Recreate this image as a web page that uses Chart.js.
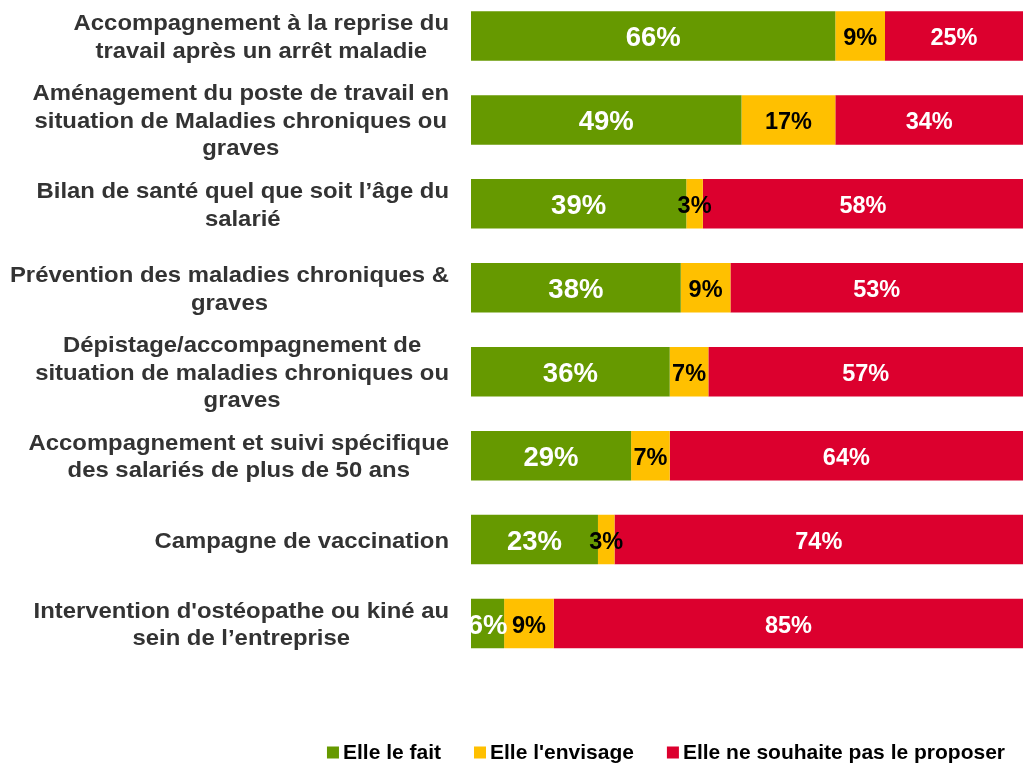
<!DOCTYPE html>
<html>
<head>
<meta charset="utf-8">
<script src="https://cdn.jsdelivr.net/npm/chart.js@4.4.1/dist/chart.umd.min.js"></script>
<style>
  html, body { margin: 0; padding: 0; background: #fff; }
  #wrap { width: 1023px; height: 765px; position: relative; overflow: hidden; }
  /* canvas starts 6px above the page so the first band is cut like the original slide */
  #inner { position: absolute; left: 0; top: -6px; width: 1023px; height: 771px; }
</style>
</head>
<body>
<div id="wrap"><div id="inner"><canvas id="chart"></canvas></div></div>
<script>
const categories = [
    ["Accompagnement à la reprise du", "travail après un arrêt maladie"],
    ["Aménagement du poste de travail en", "situation de Maladies chroniques ou", "graves"],
    ["Bilan de santé quel que soit l’âge du", "salarié"],
    ["Prévention des maladies chroniques &", "graves"],
    ["Dépistage/accompagnement de", "situation de maladies chroniques ou", "graves"],
    ["Accompagnement et suivi spécifique", "des salariés de plus de 50 ans"],
    ["Campagne de vaccination"],
    ["Intervention d'ostéopathe ou kiné au", "sein de l’entreprise"]
];
const seriesNames = ["Elle le fait", "Elle l'envisage", "Elle ne souhaite pas le proposer"];
const leFait = [66, 49, 39, 38, 36, 29, 23, 6];
const envisage = [9, 17, 3, 9, 7, 7, 3, 9];
const nePasProposer = [25, 34, 58, 53, 57, 64, 74, 85];

const colors = ["#669900", "#FFC000", "#DC002E"];
const FONT = "'Liberation Sans', Arial, sans-serif";

// category labels: block right-aligned on the axis, lines centred inside the block
// (text of the original slide is slightly stretched horizontally)
const categoryLabels = {
    id: "categoryLabels",
    afterDraw(chart) {
        const ctx = chart.ctx;
        const y = chart.scales.y;
        const right = 449;
        const lineH = 27.5;
        const sx = 1.085;
        ctx.save();
        ctx.font = "bold 22px " + FONT;
        ctx.fillStyle = "#333333";
        ctx.textAlign = "center";
        ctx.textBaseline = "middle";
        categories.forEach((lines, i) => {
            const cy = y.getPixelForValue(i) + 2;
            const maxW = Math.max(...lines.map(l => ctx.measureText(l).width)) * sx;
            const cx = right - maxW / 2;
            const top = cy - (lines.length - 1) * lineH / 2;
            lines.forEach((l, k) => {
                ctx.save();
                ctx.translate(cx, top + k * lineH);
                ctx.scale(sx, 1);
                ctx.fillText(l, 0, 0);
                ctx.restore();
            });
        });
        ctx.restore();
    }
};

// percentages in the middle of each segment
const valueLabels = {
    id: "valueLabels",
    afterDatasetsDraw(chart) {
        const ctx = chart.ctx;
        const a = chart.chartArea;
        ctx.save();
        ctx.beginPath();
        ctx.rect(a.left, 0, a.right - a.left, chart.height);
        ctx.clip();
        ctx.textAlign = "center";
        ctx.textBaseline = "middle";
        chart.data.datasets.forEach((ds, d) => {
            const meta = chart.getDatasetMeta(d);
            meta.data.forEach((bar, i) => {
                ctx.font = (d === 0 ? "bold 27.5px " : "bold 23.5px ") + FONT;
                ctx.fillStyle = d === 1 ? "#000000" : "#ffffff";
                ctx.fillText(ds.data[i] + "%", (bar.x + bar.base) / 2, bar.y + 2.5);
            });
        });
        ctx.restore();
    }
};

// legend at the bottom right
const bottomLegend = {
    id: "bottomLegend",
    afterDraw(chart) {
        const ctx = chart.ctx;
        const box = 12, gapText = 4, gapItem = 33, cy = 758.5;
        ctx.save();
        ctx.font = "bold 21px " + FONT;
        ctx.textBaseline = "middle";
        ctx.textAlign = "left";
        const widths = seriesNames.map(n => ctx.measureText(n).width);
        let total = widths.reduce((s, w) => s + w + box + gapText, 0) + gapItem * (seriesNames.length - 1);
        let x = 1005 - total;
        seriesNames.forEach((n, i) => {
            ctx.fillStyle = colors[i];
            ctx.fillRect(x, cy - box / 2, box, box);
            ctx.fillStyle = "#000000";
            ctx.fillText(n, x + box + gapText, cy + 1);
            x += box + gapText + widths[i] + gapItem;
        });
        ctx.restore();
    }
};

new Chart(document.getElementById("chart"), {
    type: "bar",
    data: {
        labels: categories,
        datasets: [
            { label: seriesNames[0], data: leFait, backgroundColor: colors[0] },
            { label: seriesNames[1], data: envisage, backgroundColor: colors[1] },
            { label: seriesNames[2], data: nePasProposer, backgroundColor: colors[2] }
        ]
    },
    options: {
        indexAxis: "y",
        responsive: true,
        maintainAspectRatio: false,
        animation: false,
        layout: { padding: 0 },
        datasets: { bar: { barPercentage: 0.59, categoryPercentage: 1 } },
        plugins: {
            legend: { display: false },
            tooltip: { enabled: false }
        },
        scales: {
            x: {
                stacked: true,
                min: 0,
                max: 100,
                grid: { display: false },
                border: { display: false },
                ticks: { display: false },
                afterFit(scale) { scale.height = 99.5; }
            },
            y: {
                stacked: true,
                grid: { display: false },
                border: { display: false },
                ticks: { display: false },
                afterFit(scale) { scale.width = 471; }
            }
        }
    },
    plugins: [categoryLabels, valueLabels, bottomLegend]
});
</script>
</body>
</html>
